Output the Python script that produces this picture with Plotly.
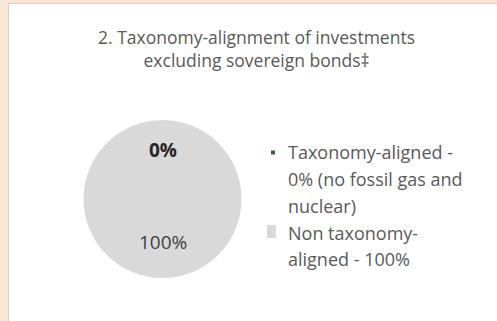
import math
import plotly.graph_objects as go

W, H = 497, 321

# ---- data ----
labels = ["Taxonomy-aligned - 0% (no fossil gas and nuclear)", "Non taxonomy-aligned - 100%"]
values = [0, 100]
colors = ["#2E6B1E", "#D9D9D9"]
legend_lines = [["Taxonomy-aligned -", "0% (no fossil gas and", "nuclear)"],
                ["Non taxonomy-", "aligned - 100%"]]
title_lines = ["2. Taxonomy-alignment of investments", "excluding sovereign bonds\u2021"]

def px(x):
    return x / W

def py(y):
    return 1 - y / H

FONT = "Open Sans"
TXT = "#595959"

# pie geometry (pixels)
cx, cy, r = 162.5, 199, 79

fig = go.Figure()
fig.add_trace(go.Pie(
    labels=labels, values=values, sort=False, direction="clockwise", rotation=0,
    marker=dict(colors=colors, line=dict(width=0)),
    textinfo="none", hoverinfo="label+percent", showlegend=False,
    domain=dict(x=[px(cx - r), px(cx + r)], y=[py(cy + r), py(cy - r)]),
))

annotations = []
# data labels at slice mid-angles
total = sum(values)
cum = 0
label_r = [0.62, 0.55]
bold = [True, False]
for i, v in enumerate(values):
    frac = v / total
    mid = (cum + frac / 2) * 2 * math.pi
    cum += frac
    lx = cx + label_r[i] * r * math.sin(mid)
    ly = cy - label_r[i] * r * math.cos(mid)
    t = f"{round(frac*100)}%"
    if bold[i]:
        t = f"<b>{t}</b>"
    annotations.append(dict(x=px(lx), y=py(ly), xref="paper", yref="paper", text=t,
                            showarrow=False, xanchor="center", yanchor="middle",
                            font=dict(family=FONT, size=19, color="#262626" if bold[i] else "#404040")))

# title
annotations.append(dict(x=px(256), y=py(48), xref="paper", yref="paper",
                        text="<br>".join(title_lines),
                        showarrow=False, xanchor="center", yanchor="middle", align="center",
                        font=dict(family=FONT, size=17.5, color=TXT)))

# custom legend
shapes = [
    dict(type="rect", xref="paper", yref="paper", x0=0, x1=px(8), y0=0, y1=1,
         fillcolor="#FBE5D3", line=dict(width=0), layer="below"),
    dict(type="rect", xref="paper", yref="paper", x0=0, x1=1, y0=py(3), y1=1,
         fillcolor="#FBE5D3", line=dict(width=0), layer="below"),
    dict(type="line", xref="paper", yref="paper", x0=px(8.5), x1=px(8.5), y0=0, y1=py(3),
         line=dict(color="#D0D0D0", width=1), layer="below"),
    dict(type="line", xref="paper", yref="paper", x0=px(8.5), x1=1, y0=py(3.5), y1=py(3.5),
         line=dict(color="#D0D0D0", width=1), layer="below"),
]
line_y = [[152, 179, 206], [233, 259]]
marker_boxes = [(271, 150.5, 275, 154.5), (267, 225, 276, 238)]
for i, lines in enumerate(legend_lines):
    x0, y0, x1, y1 = marker_boxes[i]
    shapes.append(dict(type="rect", xref="paper", yref="paper", x0=px(x0), x1=px(x1),
                       y0=py(y1), y1=py(y0), fillcolor=colors[i], line=dict(width=0)))
    for k, t in enumerate(lines):
        annotations.append(dict(x=px(286), y=py(line_y[i][k]), xref="paper", yref="paper", text=t,
                                showarrow=False, xanchor="left", yanchor="middle",
                                font=dict(family=FONT, size=18, color=TXT)))

fig.update_layout(
    width=W, height=H, margin=dict(l=0, r=0, t=0, b=0),
    paper_bgcolor="white", plot_bgcolor="white",
    annotations=annotations, shapes=shapes,
)
fig.write_html("out.html")
